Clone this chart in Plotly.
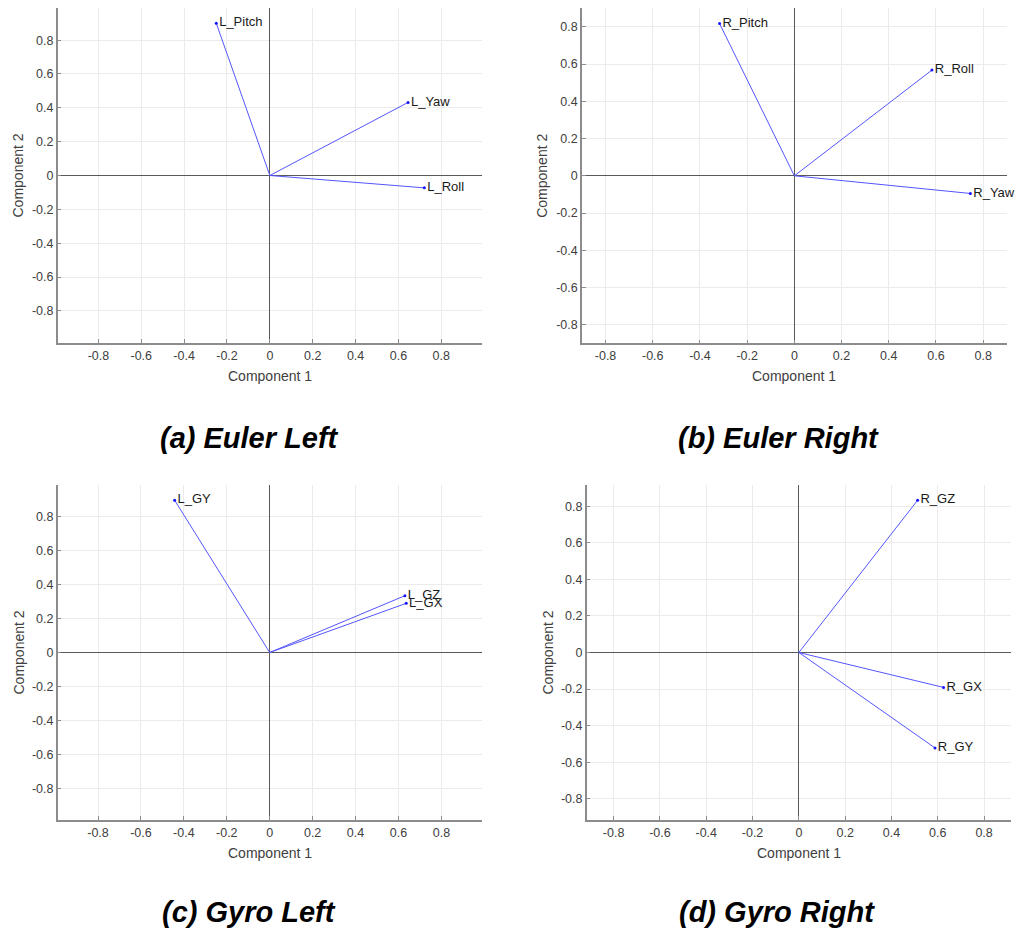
import plotly.graph_objects as go

W, H = 1015, 931

# ---- data (loadings on Component 1 / Component 2) ----
euler_left_labels = ["L_Pitch", "L_Yaw", "L_Roll"]
euler_left_c1 = [-0.250, 0.645, 0.721]
euler_left_c2 = [0.900, 0.432, -0.073]

euler_right_labels = ["R_Pitch", "R_Roll", "R_Yaw"]
euler_right_c1 = [-0.317, 0.583, 0.746]
euler_right_c2 = [0.818, 0.568, -0.095]

gyro_left_labels = ["L_GY", "L_GZ", "L_GX"]
gyro_left_c1 = [-0.443, 0.630, 0.636]
gyro_left_c2 = [0.898, 0.335, 0.290]

gyro_right_labels = ["R_GZ", "R_GX", "R_GY"]
gyro_right_c1 = [0.513, 0.625, 0.588]
gyro_right_c2 = [0.833, -0.191, -0.522]

panel_titles = ["(a) Euler Left", "(b) Euler Right", "(c) Gyro Left", "(d) Gyro Right"]
tick_vals = [-0.8, -0.6, -0.4, -0.2, 0, 0.2, 0.4, 0.6, 0.8]
tick_text = ["-0.8", "-0.6", "-0.4", "-0.2", "0", "0.2", "0.4", "0.6", "0.8"]
x_label = "Component 1"
y_label = "Component 2"

panels = [
    (euler_left_labels, euler_left_c1, euler_left_c2),
    (euler_right_labels, euler_right_c1, euler_right_c2),
    (gyro_left_labels, gyro_left_c1, gyro_left_c2),
    (gyro_right_labels, gyro_right_c1, gyro_right_c2),
]

# ---- layout geometry (window pixels) ----
# (left, right, top, bottom) of each plot area
boxes = [
    (57.7, 482.0, 8.0, 343.0),
    (582.0, 1006.7, 8.3, 343.3),
    (57.7, 481.7, 485.0, 820.0),
    (586.7, 1011.0, 485.0, 820.0),
]
ylabel_x = [18, 542, 18, 547]
title_pos = [(249, 438), (778, 438), (249, 912), (777, 912)]

def px(x):
    return x / W

def py(y):
    return 1 - y / H

fig = go.Figure()
layout = dict(
    width=W, height=H,
    margin=dict(l=0, r=0, t=0, b=0),
    paper_bgcolor="white", plot_bgcolor="white",
    showlegend=False,
    font=dict(family="Liberation Sans, Arial, sans-serif", color="#262626"),
    annotations=[],
)

line_color = "rgb(85,85,255)"
for i, (labels, c1, c2) in enumerate(panels):
    n = "" if i == 0 else str(i + 1)
    xa, ya = "x" + n, "y" + n
    lim = 1.1 * max(max(abs(v) for v in c1), max(abs(v) for v in c2))
    lx, ly = [], []
    for a, b in zip(c1, c2):
        lx += [0, a, None]
        ly += [0, b, None]
    fig.add_trace(go.Scatter(x=lx, y=ly, mode="lines", xaxis=xa, yaxis=ya,
                             line=dict(color=line_color, width=1), hoverinfo="skip"))
    fig.add_trace(go.Scatter(x=c1, y=c2, mode="markers+text", xaxis=xa, yaxis=ya,
                             text=labels, textposition="middle right",
                             cliponaxis=False,
                             textfont=dict(size=13, color="#1a1a1a"),
                             marker=dict(color="rgb(20,20,255)", size=3)))
    l, r, t, b = boxes[i]
    axis_common = dict(
        range=[-lim, lim], tickvals=tick_vals, ticktext=tick_text,
        showgrid=True, gridcolor="#ebebeb", gridwidth=1,
        zeroline=True, zerolinecolor="#595959", zerolinewidth=1,
        showline=True, linecolor="#8c8c8c", linewidth=1.5, mirror=False,
        ticks="inside", ticklen=4, tickcolor="#8c8c8c",
        tickfont=dict(size=12.5, color="#404040"),
        fixedrange=True,
    )
    layout["xaxis" + n] = dict(axis_common, domain=[px(l), px(r)], anchor=ya)
    layout["yaxis" + n] = dict(axis_common, domain=[py(b), py(t)], anchor=xa)
    # axis titles
    layout["annotations"].append(dict(
        text=x_label, x=px((l + r) / 2), y=py(b + 33), xref="paper", yref="paper",
        showarrow=False, xanchor="center", yanchor="middle",
        font=dict(size=14, color="#404040")))
    layout["annotations"].append(dict(
        text=y_label, x=px(ylabel_x[i]), y=py((t + b) / 2), xref="paper", yref="paper",
        showarrow=False, xanchor="center", yanchor="middle", textangle=-90,
        font=dict(size=14, color="#404040")))
    tx, ty = title_pos[i]
    layout["annotations"].append(dict(
        text="<b><i>" + panel_titles[i] + "</i></b>", x=px(tx), y=py(ty),
        xref="paper", yref="paper", showarrow=False,
        xanchor="center", yanchor="middle",
        font=dict(size=29, color="black",
                  family="Liberation Sans Narrow, Arial Narrow, Liberation Sans, Arial")))

fig.update_layout(**layout)
fig.write_html("out.html", config={"displayModeBar": False},
               post_script="document.body.style.margin='0';"
                           "document.documentElement.style.overflow='hidden';"
                           "document.body.style.overflow='hidden';")
